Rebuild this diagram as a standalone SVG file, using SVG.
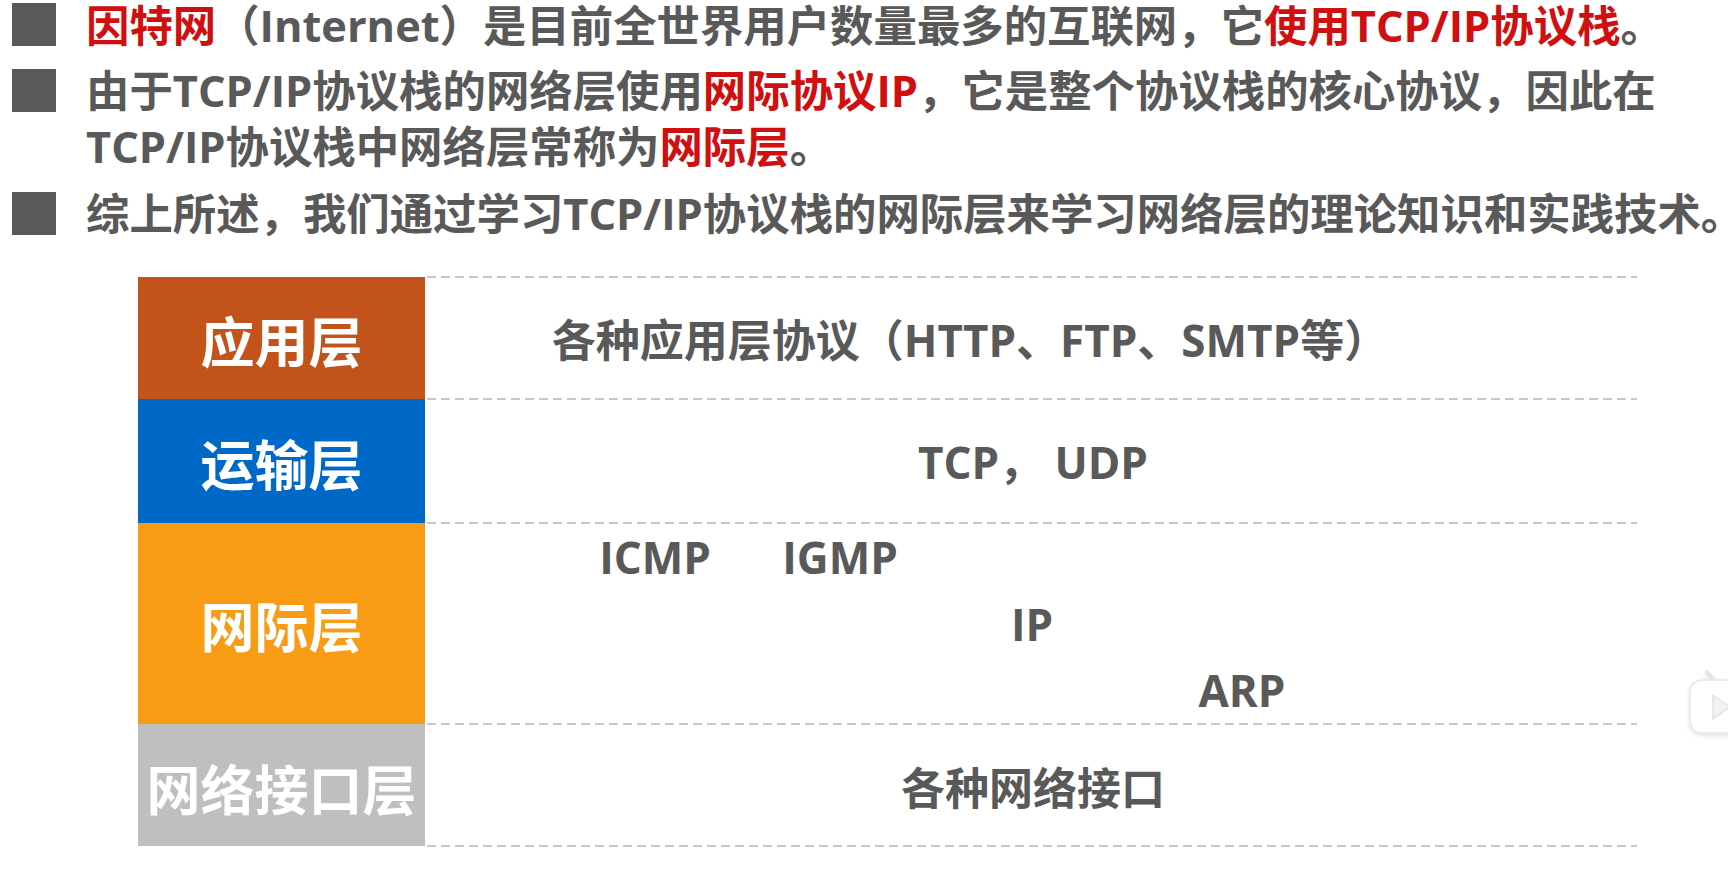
<svg xmlns="http://www.w3.org/2000/svg" width="1728" height="873" viewBox="0 0 1728 873">
  <defs>
    <style>
      .t { font-family: "Open Sans", "Noto Sans CJK SC", sans-serif; font-weight: 700; }
      .head { font-size: 43.4px; fill: #595959; }
      .red { fill: #D01010; }
      .bullet { fill: #595959; }
      .layer { font-size: 54px; fill: #FFFFFF; text-anchor: middle; }
      .proto { font-size: 44px; fill: #595959; text-anchor: middle; }
      .sep { stroke: #C8C8C8; stroke-width: 2; stroke-dasharray: 9 5; fill: none; }
    </style>
    <filter id="soft" x="-30%" y="-30%" width="160%" height="160%">
      <feDropShadow dx="0" dy="2" stdDeviation="2" flood-color="#000000" flood-opacity="0.12"/>
    </filter>
  </defs>

  <rect width="1728" height="873" fill="#FFFFFF"/>

  <!-- Bullet points -->
  <g id="bullets">
    <rect class="bullet" x="12" y="3" width="44" height="43"/>
    <rect class="bullet" x="12" y="69" width="44" height="43"/>
    <rect class="bullet" x="12" y="192" width="44" height="43"/>
    <text class="t head" x="86" y="42"><tspan class="red">因特网</tspan>（Internet）是目前全世界用户数量最多的互联网，它<tspan class="red">使用TCP/IP协议栈</tspan>。</text>
    <text class="t head" x="86" y="107">由于TCP/IP协议栈的网络层使用<tspan class="red">网际协议IP</tspan>，它是整个协议栈的核心协议，因此在</text>
    <text class="t head" x="86" y="163">TCP/IP协议栈中网络层常称为<tspan class="red">网际层</tspan>。</text>
    <text class="t head" x="86" y="230">综上所述，我们通过学习TCP/IP协议栈的网际层来学习网络层的理论知识和实践技术。</text>
  </g>

  <!-- Row separators -->
  <g id="separators">
    <line class="sep" x1="427" y1="277" x2="1637" y2="277"/>
    <line class="sep" x1="427" y1="399" x2="1637" y2="399"/>
    <line class="sep" x1="427" y1="523" x2="1637" y2="523"/>
    <line class="sep" x1="427" y1="724" x2="1637" y2="724"/>
    <line class="sep" x1="427" y1="846" x2="1637" y2="846"/>
  </g>

  <!-- Layer: application -->
  <g id="layer-application">
    <rect x="138" y="277" width="287" height="122" fill="#C2531A"/>
    <text class="t layer" x="281.5" y="363">应用层</text>
    <text class="t proto" x="970" y="357">各种应用层协议（HTTP、FTP、SMTP等）</text>
  </g>

  <!-- Layer: transport -->
  <g id="layer-transport">
    <rect x="138" y="399" width="287" height="124" fill="#0068C6"/>
    <text class="t layer" x="281.5" y="486">运输层</text>
    <text class="t proto" x="1033" y="479">TCP， UDP</text>
  </g>

  <!-- Layer: internet -->
  <g id="layer-internet">
    <rect x="138" y="523" width="287" height="201" fill="#F79C14"/>
    <text class="t layer" x="281.5" y="648">网际层</text>
    <text class="t proto" x="655" y="574">ICMP</text>
    <text class="t proto" x="840" y="574">IGMP</text>
    <text class="t proto" x="1032" y="641">IP</text>
    <text class="t proto" x="1242" y="707">ARP</text>
  </g>

  <!-- Layer: network interface -->
  <g id="layer-link">
    <rect x="138" y="724" width="287" height="122" fill="#BFBFBF"/>
    <text class="t layer" x="281.5" y="811">网络接口层</text>
    <text class="t proto" x="1033" y="805">各种网络接口</text>
  </g>

  <!-- Small TV badge at the right edge -->
  <g id="badge" filter="url(#soft)">
    <line x1="1707" y1="672" x2="1715" y2="682" stroke="#E4E4E4" stroke-width="4" stroke-linecap="round"/>
    <rect x="1690" y="680" width="62" height="53" rx="12" fill="#FFFFFF" stroke="#E6E6E6" stroke-width="1.5"/>
    <path d="M1713 695 L1730 707 L1713 719 Z" fill="#F2F2F2" stroke="#E2E2E2" stroke-width="1.5" stroke-linejoin="round"/>
  </g>
</svg>
